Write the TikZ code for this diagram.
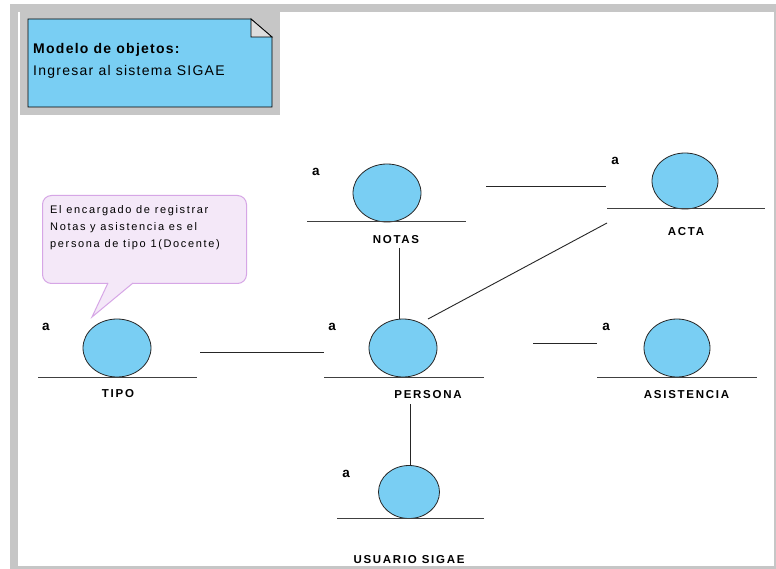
\documentclass[tikz,border=0pt]{standalone}
\usepackage{fontspec}
\setmainfont{Liberation Sans}[LetterSpace=15]
\usetikzlibrary{shapes.geometric}
\definecolor{objblue}{HTML}{79CEF3}
\definecolor{framegray}{HTML}{C6C6C6}
\definecolor{foldgray}{HTML}{DEDEDE}
\definecolor{calloutfill}{HTML}{F4E8F8}
\definecolor{calloutdraw}{HTML}{D6A6E6}
\begin{document}
\begin{tikzpicture}[x=1pt,y=-1pt,
  obj/.style={ellipse, draw=black!85, line width=0.8pt, fill=objblue,
    minimum width=68pt, minimum height=58pt, inner sep=0pt},
  smallobj/.style={obj, minimum width=61pt, minimum height=53pt},
  baseline/.style={draw=black!75, line width=1pt},
  link/.style={draw=black!85, line width=0.9pt},
  objname/.style={font=\fontsize{11.5}{13}\selectfont\bfseries, inner sep=0pt},
  inst/.style={font=\fontsize{13.5}{15}\selectfont\bfseries, inner sep=0pt},
  notetext/.style={font=\fontsize{14}{16}\selectfont\addfontfeatures{LetterSpace=9},
    inner sep=0pt, anchor=base west},
  notetitle/.style={notetext,
    font=\fontsize{14}{16}\selectfont\bfseries\addfontfeatures{LetterSpace=9}},
]
\useasboundingbox (0,0) rectangle (776,569);

% window frame
\fill[framegray] (10,4) rectangle (776,569);
\fill[white] (18,12) rectangle (774,566);

% title note with folded corner
\fill[framegray] (20,12) rectangle (280,115);
\draw[fill=objblue, line width=0.8pt]
  (28,19) -- (251,19) -- (272,37) -- (272,107) -- (28,107) -- cycle;
\draw[fill=foldgray, line width=0.8pt] (251,19) -- (251,37) -- (272,37) -- cycle;
\node[notetitle] (titulo) at (33,54) {Modelo de objetos:};
\node[notetext] (subtitulo) at (33,76) {Ingresar al sistema SIGAE};

% speech bubble comment
\node[draw=calloutdraw, fill=calloutfill, line width=1pt, rounded corners=9pt,
      minimum width=204pt, minimum height=88pt, inner sep=0pt, anchor=north west]
  (globo) at (42,195) {};
\fill[calloutfill] (108,280) -- (108,283) -- (92,317) -- (133,283) -- (133,280) -- cycle;
\draw[calloutdraw, line width=1pt] (108,283) -- (92,317) -- (133,283);
\node[anchor=north west, inner sep=0pt, align=left,
      font=\fontsize{11}{17}\selectfont] (globotxt) at (50,205)
  {El encargado de registrar\\Notas y asistencia es el\\persona de tipo 1(Docente)};

% objects
\node[obj] (tipo) at (117,348) {};
\node[obj] (notas) at (387,193) {};
\node[obj, minimum width=66pt, minimum height=56pt] (acta) at (685,181) {};
\node[obj] (persona) at (403,348) {};
\node[obj, minimum width=66pt] (asistencia) at (677,348) {};
\node[smallobj] (usuario) at (409,492) {};

% base lines under each object
\draw[baseline] (38,377) -- (197,377);
\draw[baseline] (307,222) -- (466,222);
\draw[baseline] (607,209) -- (765,209);
\draw[baseline] (324,377) -- (484,377);
\draw[baseline] (597,377) -- (757,377);
\draw[baseline] (337,518) -- (484,518);

% object names
\node[objname] (tipoN) at (118,394) {TIPO};
\node[objname] (notasN) at (396,240) {NOTAS};
\node[objname] (actaN) at (686,232) {ACTA};
\node[objname] (personaN) at (428,394.5) {PERSONA};
\node[objname] (asistenciaN) at (686.5,394.5) {ASISTENCIA};
\node[objname] (usuarioN) at (409,559.5) {USUARIO SIGAE};

% instance labels
\node[inst] (tipoA) at (46,327) {a};
\node[inst] (notasA) at (316,172) {a};
\node[inst] (actaA) at (615,161) {a};
\node[inst] (personaA) at (332,327) {a};
\node[inst] (asistenciaA) at (606,327) {a};
\node[inst] (usuarioA) at (346,474) {a};

% link end points
\coordinate (na1) at (486,186);
\coordinate (na2) at (606,186);
\coordinate (ap1) at (607,223);
\coordinate (ap2) at (428,319);
\coordinate (np1) at (399,248);
\coordinate (np2) at (399,319);
\coordinate (tp1) at (200,352);
\coordinate (tp2) at (324,352);
\coordinate (pa1) at (533,343);
\coordinate (pa2) at (597,343);
\coordinate (pu1) at (410,404);
\coordinate (pu2) at (410,466);

% links
\draw[link] (na1) -- (na2);
\draw[link] (ap1) -- (ap2);
\draw[link] (np1) -- (np2);
\draw[link] (tp1) -- (tp2);
\draw[link] (pa1) -- (pa2);
\draw[link] (pu1) -- (pu2);
\end{tikzpicture}
\end{document}
